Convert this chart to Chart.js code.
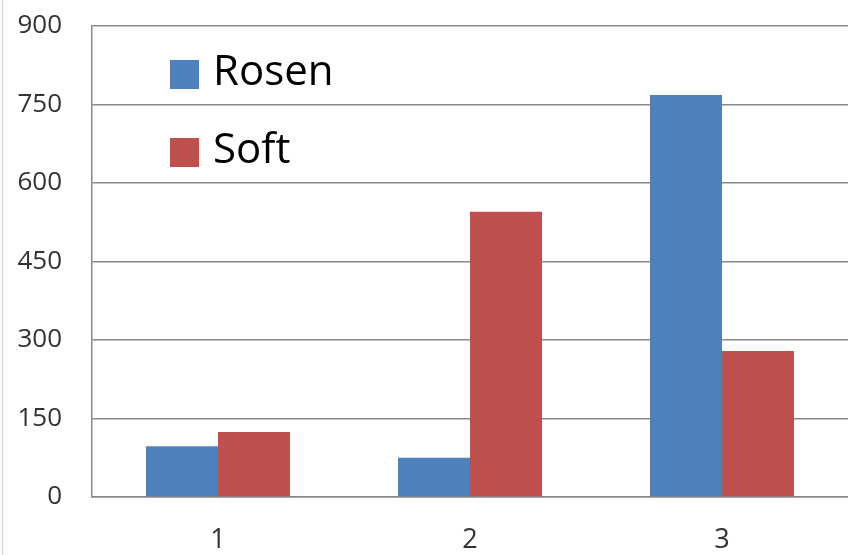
<!DOCTYPE html>
<html>
<head>
<meta charset="utf-8">
<script src="https://cdn.jsdelivr.net/npm/chart.js@4"></script>
<style>
  html, body { margin: 0; padding: 0; background: #ffffff; }
  #wrap { width: 848px; height: 555px; position: relative; }
</style>
</head>
<body>
<div id="wrap"><canvas id="c" width="848" height="555"></canvas></div>
<script>
const categories = ['1', '2', '3'];
const rosenValues = [97, 75, 768];
const softValues = [124, 545, 279];
const seriesNames = ['Rosen', 'Soft'];
const yMin = 0, yMax = 900, yStep = 150;

const frameLine = {
  id: 'frameLine',
  beforeDraw(chart) {
    const ctx = chart.ctx;
    ctx.save();
    ctx.strokeStyle = '#dcdcdc';
    ctx.lineWidth = 1.5;
    ctx.beginPath();
    ctx.moveTo(2.5, 0);
    ctx.lineTo(2.5, chart.height);
    ctx.stroke();
    ctx.restore();
  }
};

const insideLegend = {
  id: 'insideLegend',
  afterDatasetsDraw(chart) {
    const ctx = chart.ctx;
    ctx.save();
    chart.data.datasets.forEach((ds, i) => {
      const top = 60 + i * 78;
      ctx.fillStyle = ds.backgroundColor;
      ctx.fillRect(170, top, 29, 29);
      ctx.fillStyle = '#000000';
      ctx.font = '42px "Open Sans", sans-serif';
      ctx.textBaseline = 'middle';
      ctx.textAlign = 'left';
      ctx.fillText(ds.label, 213, top + 13);
    });
    ctx.restore();
  }
};

new Chart(document.getElementById('c'), {
  type: 'bar',
  data: {
    labels: categories,
    datasets: [
      { label: seriesNames[0], data: rosenValues, backgroundColor: '#4F81BD', borderWidth: 0 },
      { label: seriesNames[1], data: softValues, backgroundColor: '#C0504D', borderWidth: 0 }
    ]
  },
  options: {
    responsive: false,
    animation: false,
    devicePixelRatio: 1,
    layout: { padding: { top: 26, right: 0, left: 0, bottom: 0 } },
    plugins: { legend: { display: false }, tooltip: { enabled: false } },
    datasets: { bar: { categoryPercentage: 0.5714, barPercentage: 1.0 } },
    scales: {
      x: {
        grid: { display: false, drawTicks: false },
        border: { display: true, color: '#898989', width: 1.5 },
        ticks: { color: '#333333', font: { family: '"Open Sans", sans-serif', size: 27 }, padding: 27 },
        afterFit(scale) { scale.height = 58; }
      },
      y: {
        min: yMin, max: yMax,
        ticks: { stepSize: yStep, color: '#333333', font: { family: '"Open Sans", sans-serif', size: 26 }, padding: 30 },
        grid: { color: '#898989', lineWidth: 1.5, drawTicks: false },
        border: { display: true, color: '#898989', width: 1.5 },
        afterFit(scale) { scale.width = 92; scale.paddingTop = 0; scale.paddingBottom = 0; }
      }
    }
  },
  plugins: [frameLine, insideLegend]
});
</script>
</body>
</html>
